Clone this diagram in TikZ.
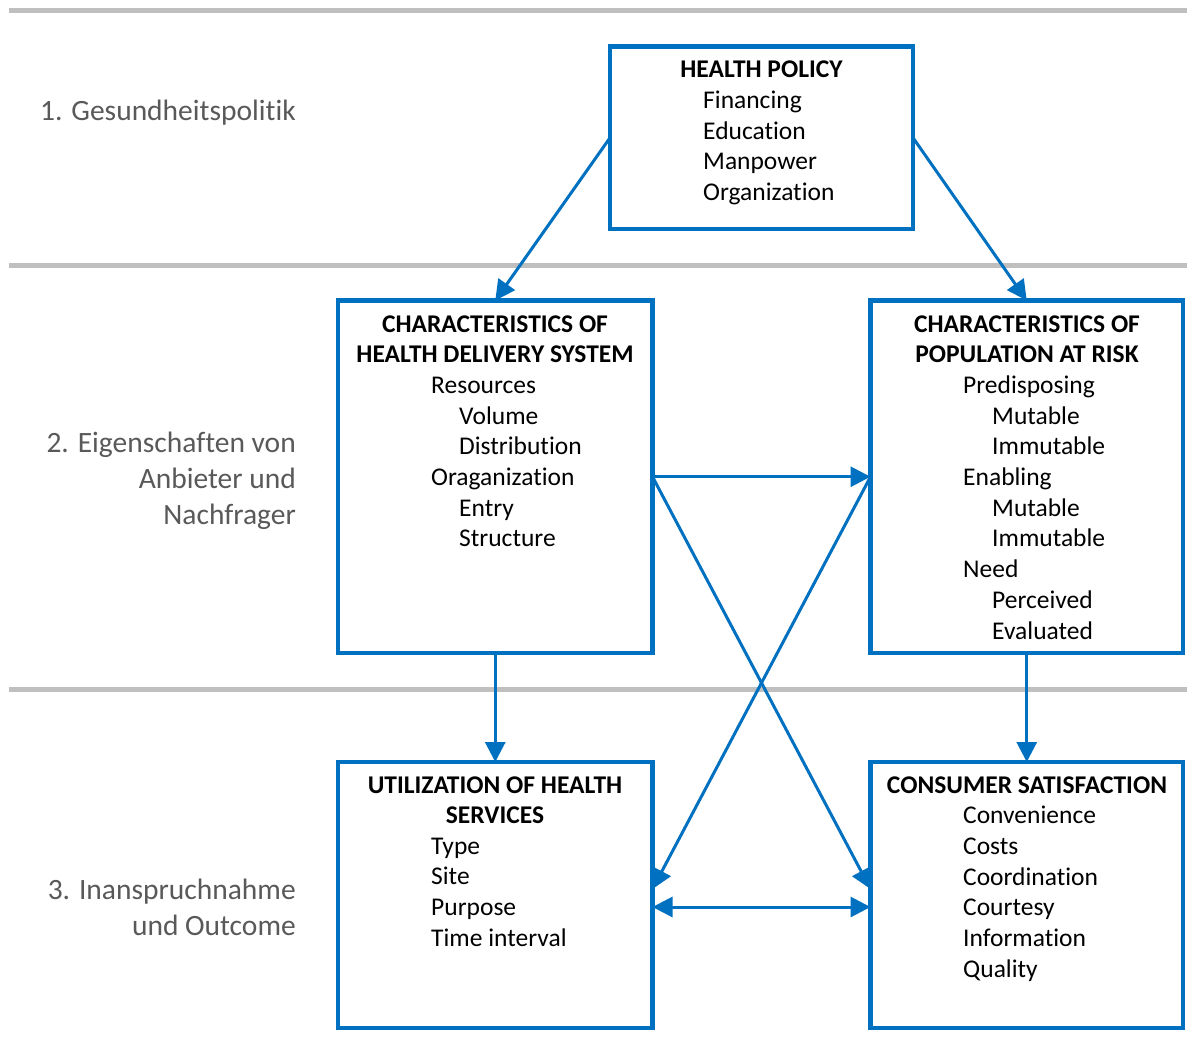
\documentclass[tikz,border=0pt]{standalone}
\usepackage{fontspec}
\setmainfont{Carlito}[Ligatures=NoCommon]
\usetikzlibrary{arrows.meta,calc}
\definecolor{boxblue}{HTML}{0070C0}
\definecolor{rulegray}{HTML}{BFBFBF}
\definecolor{labelgray}{HTML}{595959}

\begin{document}
\begin{tikzpicture}[x=1pt,y=-1pt,
  box/.style={draw=boxblue, line width=4.5pt, rectangle, inner sep=0pt, outer sep=0pt},
  head/.style={font=\fontsize{25.5}{31}\selectfont\bfseries, anchor=base, inner sep=0pt},
  item/.style={font=\fontsize{25.5}{31}\selectfont, anchor=base west, inner sep=0pt},
  band/.style={font=\fontsize{29.5}{36}\selectfont, text=labelgray, anchor=base east, inner sep=0pt},
  rule/.style={draw=rulegray, line width=5pt},
  link/.style={draw=boxblue, line width=3pt, -{Triangle[length=20pt,width=20pt]}},
  twolink/.style={draw=boxblue, line width=3pt, {Triangle[length=20pt,width=20pt]}-{Triangle[length=20pt,width=20pt]}}
]
\useasboundingbox (0,0) rectangle (1187,1061);

% horizontal band separators
\draw[rule] (9,10.5) -- (1187,10.5);
\draw[rule] (9,265) -- (1187,265);
\draw[rule] (9,689) -- (1187,689);

% band labels
\node[band] (b1) at (296,120) {1. Gesundheitspolitik};
\node[band] (b2a) at (296,452) {2. Eigenschaften von};
\node[band] (b2b) at (296,488) {Anbieter und};
\node[band] (b2c) at (296,524) {Nachfrager};
\node[band] (b3a) at (296,899) {3. Inanspruchnahme};
\node[band] (b3b) at (296,935) {und Outcome};

% boxes
\node[box, minimum width=303pt, minimum height=182.5pt] (hp) at (761.5,137.75) {};
\node[box, minimum width=314.5pt, minimum height=352.5pt] (chd) at (495.25,476.75) {};
\node[box, minimum width=312.5pt, minimum height=352.5pt] (pop) at (1026.75,476.75) {};
\node[box, minimum width=314.5pt, minimum height=266pt] (util) at (495.25,895) {};
\node[box, minimum width=312.5pt, minimum height=266pt] (cons) at (1026.75,895) {};

% health policy
\node[head] (hp-h) at (761.5,77.5) {HEALTH POLICY};
\foreach \t [count=\i] in {Financing,Education,Manpower,Organization}
  \node[item] (hp-\i) at (703,77.5+30.8*\i) {\t};

% health delivery system
\node[head] (chd-h1) at (495,332) {CHARACTERISTICS OF};
\node[head] (chd-h2) at (495,362.7) {HEALTH DELIVERY SYSTEM};
\foreach \t/\x [count=\i] in {Resources/431,Volume/459,Distribution/459,Oraganization/431,Entry/459,Structure/459}
  \node[item] (chd-\i) at (\x,362.7+30.7*\i) {\t};

% population at risk
\node[head] (pop-h1) at (1027,332) {CHARACTERISTICS OF};
\node[head] (pop-h2) at (1027,362.7) {POPULATION AT RISK};
\foreach \t/\x [count=\i] in {Predisposing/963,Mutable/992,Immutable/992,Enabling/963,Mutable/992,Immutable/992,Need/963,Perceived/992,Evaluated/992}
  \node[item] (pop-\i) at (\x,362.7+30.7*\i) {\t};

% utilization
\node[head] (util-h1) at (495,793) {UTILIZATION OF HEALTH};
\node[head] (util-h2) at (495,823.5) {SERVICES};
\foreach \t [count=\i] in {Type,Site,Purpose,Time interval}
  \node[item] (util-\i) at (431,823.5+30.7*\i) {\t};

% consumer satisfaction
\node[head] (cons-h) at (1027,793) {CONSUMER SATISFACTION};
\foreach \t [count=\i] in {Convenience,Costs,Coordination,Courtesy,Information,Quality}
  \node[item] (cons-\i) at (963,793+30.7*\i) {\t};

% connectors
\draw[link] (hp.west) -- (chd.north);
\draw[link] (hp.east) -- (pop.north);
\draw[link] (chd.east) -- (pop.west);
\draw[link] (chd.east) -- ($(cons.west)+(0,-6)$);
\draw[link] (pop.west) -- ($(util.east)+(0,-6)$);
\draw[twolink] ($(util.east)+(0,12)$) -- ($(cons.west)+(0,12)$);
\draw[link] (chd.south) -- (util.north);
\draw[link] (pop.south) -- (cons.north);
\end{tikzpicture}
\end{document}
